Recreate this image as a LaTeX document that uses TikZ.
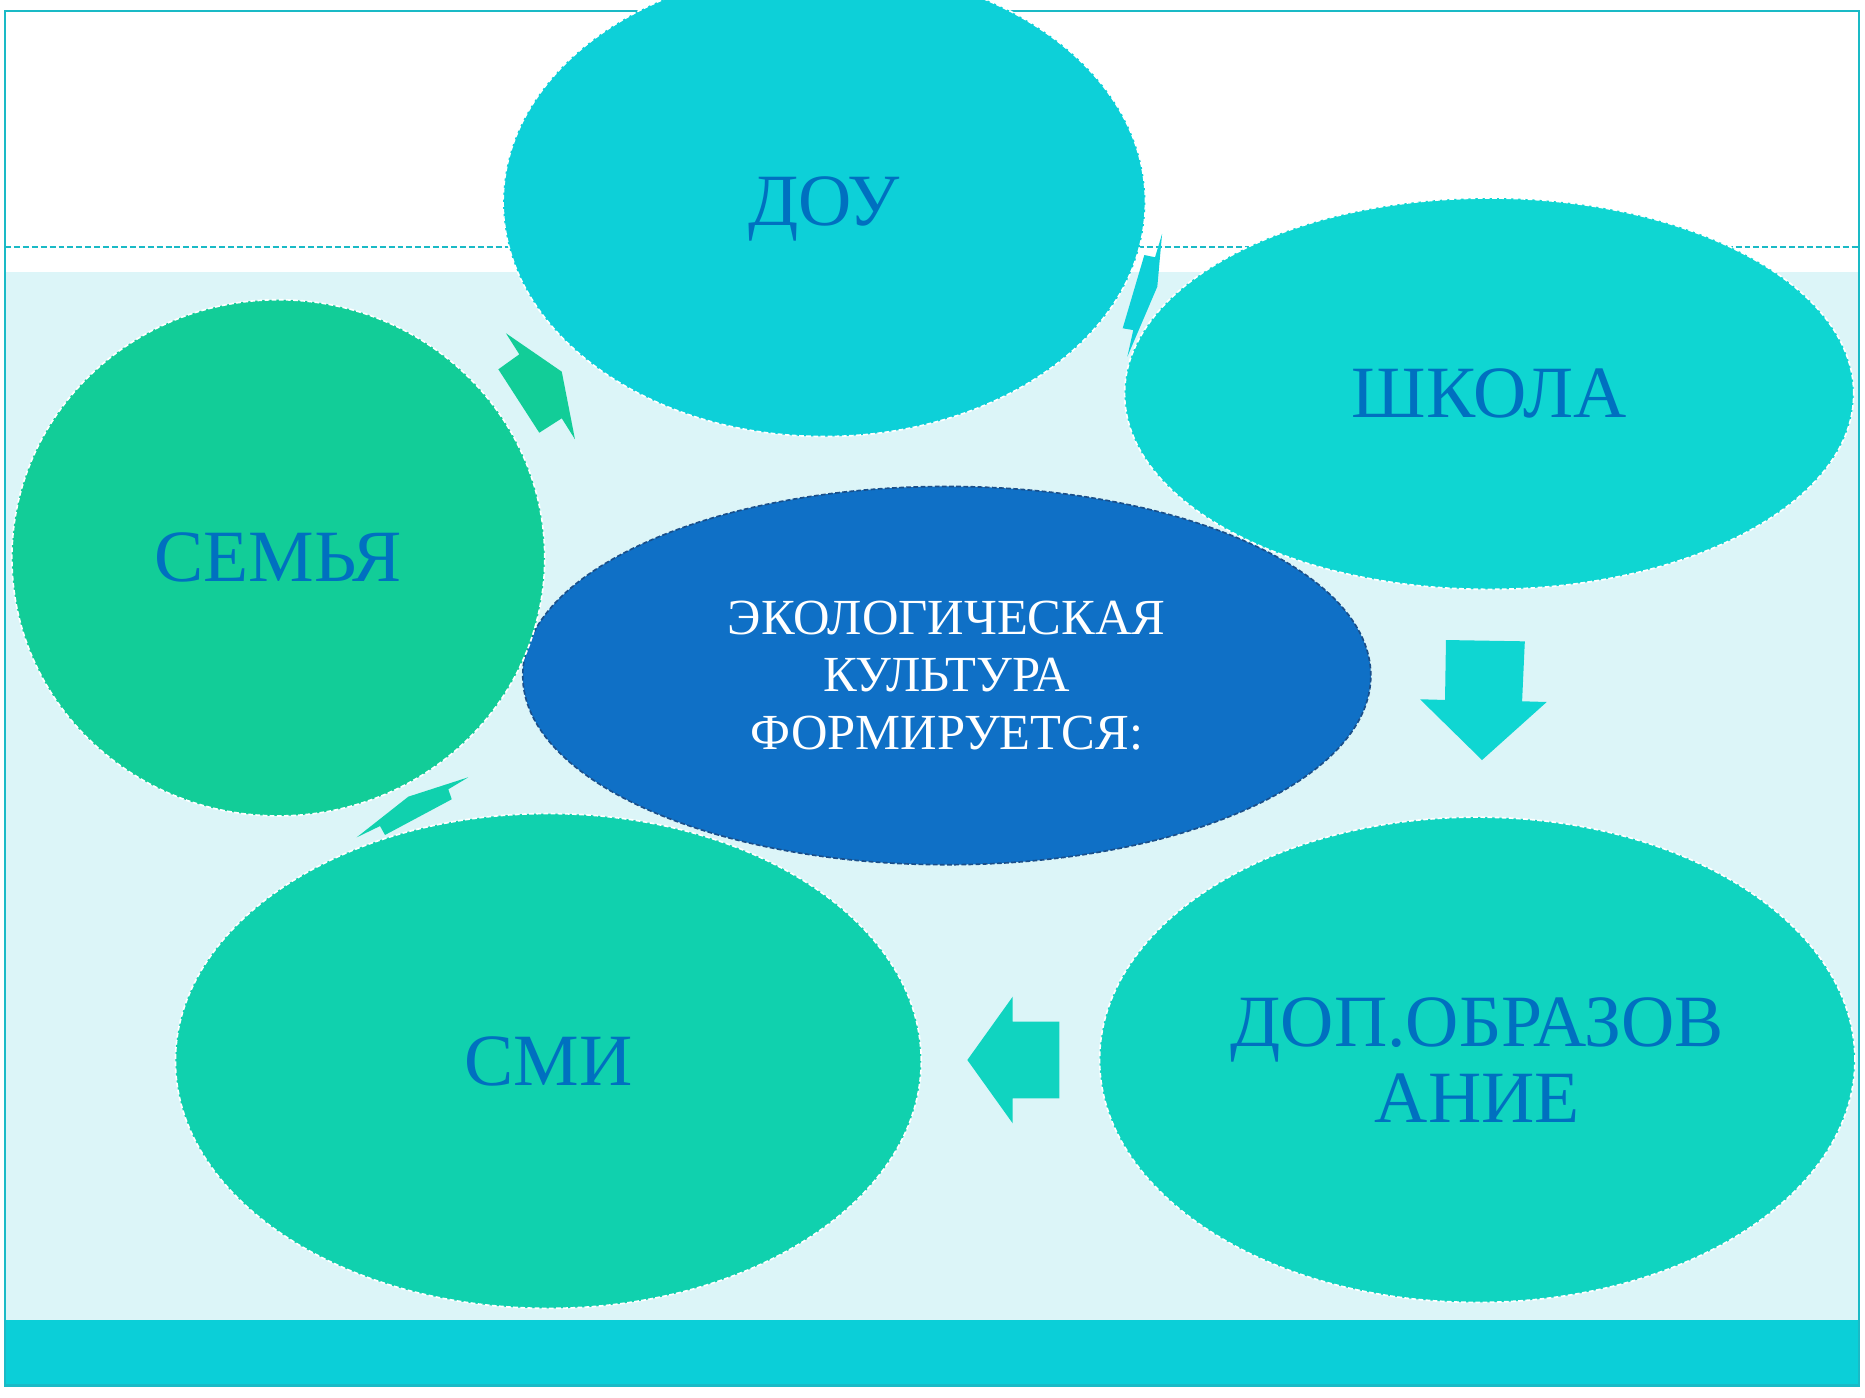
\documentclass[tikz,border=0pt]{standalone}
\usepackage{fontspec}
\setmainfont{Liberation Serif}
\usetikzlibrary{shapes.geometric}
\definecolor{frameC}{HTML}{1ABAC6}
\definecolor{bandL}{HTML}{DCF5F8}
\definecolor{bandD}{HTML}{0BCFD8}
\definecolor{douC}{HTML}{0DD0D8}
\definecolor{shkC}{HTML}{0FD6D2}
\definecolor{semC}{HTML}{12CD98}
\definecolor{smiC}{HTML}{10D1AE}
\definecolor{dopC}{HTML}{10D4C0}
\definecolor{centC}{HTML}{0F70C6}
\definecolor{centB}{HTML}{1A4F8A}
\definecolor{txtC}{HTML}{0070C0}
\begin{document}
\begin{tikzpicture}[x=1pt,y=-1pt,
  bubble/.style={ellipse, inner sep=0pt, draw=white, line width=1.4pt,
    dash pattern=on 4pt off 2pt, text=txtC,
    font=\fontsize{62}{64}\selectfont, align=center},
  blockarrow/.style={draw=none}]
\useasboundingbox (0,0) rectangle (1568,1174.6);
\fill[white] (0,0) rectangle (1568,1174.6);
\fill[bandL] (4.2,228.7) rectangle (1563,1110);
\fill[bandD] (4.2,1110) rectangle (1563,1165);
\draw[frameC, line width=2pt] (4.2,9.5) rectangle (1563,1165);
\draw[frameC, line width=1pt, dash pattern=on 5pt off 2.5pt] (4.2,207.7) -- (1563,207.7);

\node[bubble, fill=centC, draw=centB, minimum width=713pt, minimum height=318pt,
  text=white, font=\fontsize{42.5}{48.5}\selectfont] (center) at (796,568)
  {ЭКОЛОГИЧЕСКАЯ\\КУЛЬТУРА\\ФОРМИРУЕТСЯ:};
\node[bubble, fill=douC, minimum width=540pt, minimum height=394pt] (dou) at (693,170) {\raisebox{-6pt}[\height][\depth]{ДОУ}};
\node[bubble, fill=shkC, minimum width=613pt, minimum height=329pt] (shk) at (1252,331) {ШКОЛА};
\node[bubble, fill=semC, minimum width=448pt, minimum height=434pt] (sem) at (234,469) {СЕМЬЯ};
\node[bubble, fill=smiC, minimum width=627pt, minimum height=416pt] (smi) at (461,892) {СМИ};
\node[bubble, fill=dopC, minimum width=635pt, minimum height=408pt] (dop) at (1242,891) {ДОП.ОБРАЗОВ\\АНИЕ};

% block arrows
\fill[semC] (425.4,280.2) -- (472.3,312.5) -- (483.4,369.3) -- (472.3,351.7) -- (453.4,363.8) -- (419,310.5) -- (436.6,297.9) -- cycle;
\fill[douC] (977.0,196.7) -- (973.0,241.0) -- (947.8,299.9) -- (952.8,277.5) -- (943.9,276.0) -- (962.1,214.4) -- (971.1,216.3) -- cycle;
\fill[smiC] (393.7,653.5) -- (343.3,669.8) -- (299.9,704.0) -- (319.5,694.5) -- (323.7,702.0) -- (379.8,672.0) -- (376.9,663.6) -- cycle;
\fill[shkC] (1215.7,538.1) -- (1282.0,539.2) -- (1279.7,589.6) -- (1300.4,590.2) -- (1246.0,639.0) -- (1193.9,587.9) -- (1214.9,588.5) -- cycle;
\fill[dopC] (851.4,838.0) -- (851.4,859.0) -- (890.6,859.0) -- (890.6,923.4) -- (851.4,923.4) -- (851.4,944.4) -- (813.3,891.2) -- cycle;
\end{tikzpicture}
\end{document}
